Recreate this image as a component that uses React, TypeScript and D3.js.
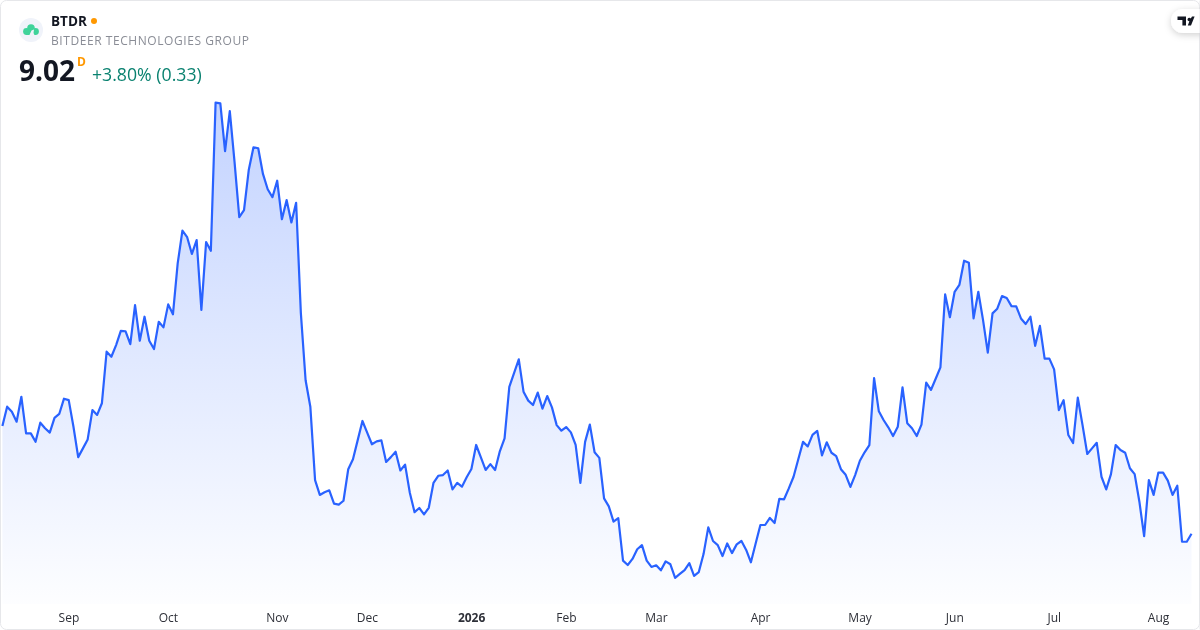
import React, { useRef, useEffect } from 'react';
import * as d3 from 'd3';

// daily closes
const closes: number[] = [
  13.46, 14.26, 14.05, 13.64, 14.67, 13.16, 13.16, 12.81, 13.60, 13.37,
  13.19, 13.80, 13.96, 14.59, 14.53, 13.43, 12.18, 12.54, 12.91, 14.12,
  13.92, 14.40, 16.53, 16.32, 16.80, 17.39, 17.37, 16.84, 18.45, 16.98,
  17.97, 16.98, 16.64, 17.76, 17.53, 18.48, 18.07, 20.17, 21.52, 21.25,
  20.56, 21.13, 18.25, 21.05, 20.69, 26.80, 26.77, 24.80, 26.45, 24.36,
  22.08, 22.37, 24.02, 24.96, 24.92, 23.86, 23.23, 22.90, 23.58, 21.99,
  22.78, 21.86, 22.67, 18.12, 15.35, 14.26, 11.23, 10.62, 10.73, 10.81,
  10.26, 10.22, 10.38, 11.68, 12.09, 12.88, 13.67, 13.19, 12.71, 12.83,
  12.87, 11.98, 12.18, 12.40, 11.63, 11.87, 10.71, 9.91, 10.08, 9.82,
  10.09, 11.12, 11.41, 11.44, 11.63, 10.85, 11.12, 10.96, 11.35, 11.69,
  12.68, 12.17, 11.65, 11.89, 11.65, 12.42, 12.95, 15.08, 15.64, 16.21,
  14.88, 14.51, 14.33, 14.84, 14.18, 14.70, 14.23, 13.50, 13.27, 13.42,
  13.20, 12.68, 11.12, 12.81, 13.52, 12.38, 12.15, 10.48, 10.15, 9.52,
  9.66, 7.91, 7.73, 7.98, 8.38, 8.55, 7.91, 7.65, 7.72, 7.51,
  7.88, 7.76, 7.20, 7.36, 7.52, 7.81, 7.28, 7.44, 8.18, 9.28,
  8.72, 8.55, 8.10, 8.62, 8.22, 8.58, 8.72, 8.35, 7.84, 8.62,
  9.38, 9.38, 9.67, 9.46, 10.46, 10.44, 10.89, 11.37, 12.09, 12.81,
  12.62, 13.10, 13.26, 12.25, 12.79, 12.36, 12.22, 11.68, 11.45, 10.95,
  11.44, 12.03, 12.38, 12.67, 15.44, 14.07, 13.71, 13.41, 13.05, 13.43,
  15.06, 13.58, 13.37, 13.05, 13.52, 15.25, 14.95, 15.41, 15.88, 18.89,
  17.95, 19.00, 19.28, 20.28, 20.20, 17.90, 19.00, 17.83, 16.49, 18.11,
  18.30, 18.82, 18.74, 18.41, 18.40, 17.90, 17.67, 17.97, 16.77, 17.59,
  16.24, 16.24, 15.80, 14.12, 14.53, 13.09, 12.76, 14.63, 13.50, 12.31,
  12.54, 12.77, 11.37, 10.85, 11.48, 12.68, 12.47, 12.36, 11.72, 11.48,
  10.34, 8.92, 11.23, 10.62, 11.54, 11.54, 11.21, 10.62, 11.00, 8.69,
  8.69, 9.02,
];

// index of the first session of each month
const monthStarts: number[] = [14, 35, 58, 77, 99, 119, 138, 160, 181, 201, 222, 244];
const monthLabels: string[] = ['Sep', 'Oct', 'Nov', 'Dec', '2026', 'Feb', 'Mar', 'Apr', 'May', 'Jun', 'Jul', 'Aug'];

const symbol = 'BTDR';
const company = 'BITDEER TECHNOLOGIES GROUP';
const lastPrice = '9.02';
const interval = 'D';
const change = '+3.80% (0.33)';

const FONT = '"Open Sans", sans-serif';

const AreaChart: React.FC = () => {
  const svgRef = useRef<SVGSVGElement | null>(null);

  useEffect(() => {
    if (!svgRef.current) return;

    const svg = d3.select(svgRef.current);
    const width = 1200;
    const height = 630;
    const areaBase = 604;

    // Clear previous content
    svg.selectAll('*').remove();

    const x = d3.scaleLinear()
      .domain([0, closes.length - 1])
      .range([2.4, 1191.5]);

    const y = d3.scaleLinear()
      .domain([7, 27])
      .range([582.7, 97.8]);

    const defs = svg.append('defs');

    const grad = defs.append('linearGradient')
      .attr('id', 'areaFill')
      .attr('gradientUnits', 'userSpaceOnUse')
      .attr('x1', 0).attr('x2', 0)
      .attr('y1', 100).attr('y2', areaBase);
    grad.append('stop').attr('offset', 0).attr('stop-color', '#2962ff').attr('stop-opacity', 0.28);
    grad.append('stop').attr('offset', 1).attr('stop-color', '#2962ff').attr('stop-opacity', 0.01);

    const shadow = defs.append('filter')
      .attr('id', 'badgeShadow')
      .attr('x', '-50%').attr('y', '-50%')
      .attr('width', '200%').attr('height', '200%');
    shadow.append('feDropShadow')
      .attr('dx', 0).attr('dy', 2)
      .attr('stdDeviation', 3.5)
      .attr('flood-color', '#000')
      .attr('flood-opacity', 0.18);

    // Card
    svg.append('rect')
      .attr('x', 0.5).attr('y', 0.5)
      .attr('width', width - 1).attr('height', height - 1)
      .attr('rx', 6)
      .attr('fill', '#fff')
      .attr('stroke', '#e6e7ea');

    // Area and line
    const area = d3.area<number>()
      .x((d, i) => x(i))
      .y0(areaBase)
      .y1(d => y(d));

    svg.append('path')
      .datum(closes)
      .attr('fill', 'url(#areaFill)')
      .attr('d', area);

    const line = d3.line<number>()
      .x((d, i) => x(i))
      .y(d => y(d));

    svg.append('path')
      .datum(closes)
      .attr('fill', 'none')
      .attr('stroke', '#2962ff')
      .attr('stroke-width', 2.2)
      .attr('stroke-linejoin', 'round')
      .attr('d', line);

    // Month axis
    const axis = svg.append('g')
      .attr('transform', 'translate(-0.3,610)')
      .call(
        d3.axisBottom(x)
          .tickValues(monthStarts)
          .tickSize(0)
          .tickPadding(0)
          .tickFormat((d, i) => monthLabels[i])
      );
    axis.select('.domain').remove();
    axis.selectAll<SVGTextElement, number>('text')
      .attr('dy', '0.71em')
      .attr('y', 3)
      .attr('font-family', FONT)
      .attr('font-size', 12)
      .attr('fill', '#2e3038')
      .attr('font-weight', (d, i) => (monthLabels[i] === '2026' ? 700 : 400));

    // Logo
    svg.append('circle').attr('cx', 31).attr('cy', 30).attr('r', 12).attr('fill', '#f0f3fa');
    const logo = svg.append('g').attr('fill', '#3fd39a');
    logo.append('circle').attr('cx', 26.5).attr('cy', 31.5).attr('r', 3.4);
    logo.append('circle').attr('cx', 31).attr('cy', 28).attr('r', 3.8);
    logo.append('circle').attr('cx', 35.5).attr('cy', 31.5).attr('r', 3.4);
    logo.append('rect').attr('x', 26).attr('y', 29).attr('width', 10).attr('height', 6);
    svg.append('path')
      .attr('d', 'M29 36 L31.5 30.5 L34 29.5 L33.5 33 L35 36 Z')
      .attr('fill', '#f0f3fa');

    // Header
    const label = (tx: number, ty: number, text: string, size: number, weight: number, fill: string) =>
      svg.append('text')
        .attr('x', tx).attr('y', ty)
        .attr('font-family', FONT)
        .attr('font-size', size)
        .attr('font-weight', weight)
        .attr('fill', fill)
        .text(text);

    label(51, 26, symbol, 13.5, 700, '#131722');
    svg.append('circle').attr('cx', 94).attr('cy', 21).attr('r', 3).attr('fill', '#ff9800');
    label(51, 45, company, 12, 400, '#8a8d96').attr('textLength', 198);
    label(19, 81, lastPrice, 28, 700, '#131722');
    label(77, 66, interval, 12, 700, '#ff9800');
    label(92, 81, change, 17.7, 400, '#0a8270');

    // TradingView badge
    svg.append('rect')
      .attr('x', 1171).attr('y', 9)
      .attr('width', 50).attr('height', 24)
      .attr('rx', 12)
      .attr('fill', '#fff')
      .attr('filter', 'url(#badgeShadow)');
    svg.append('path')
      .attr('fill', '#131722')
      .attr('d', 'M1177.5 16.5h8.5v9h-3.6v-5.4h-4.9z M1192 16.5h2.6l-3.6 9h-3.2l1.6-4.2a1.8 1.8 0 1 1 1.4-2.8z');

    // Mask the badge's tail past the card edge
    svg.append('rect')
      .attr('x', 1199.5).attr('y', 0.5)
      .attr('width', 0.5).attr('height', height - 1)
      .attr('fill', '#e6e7ea');
  }, []);

  return (
    <svg
      ref={svgRef}
      width={1200}
      height={630}
      style={{ position: 'fixed', left: 0, top: 0, display: 'block' }}
    ></svg>
  );
};

function App() {
  return <AreaChart />;
}

export default App;
